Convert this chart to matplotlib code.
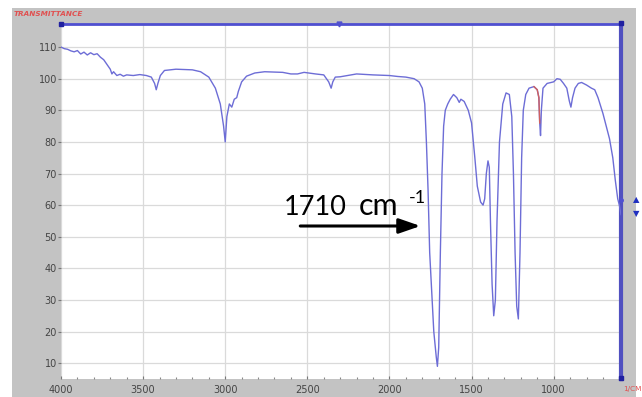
import matplotlib
matplotlib.use("Agg")
import matplotlib.pyplot as plt
from matplotlib.patches import Rectangle

# IR spectrum: wavenumber (1/cm) vs transmittance (%)
wavenumber = [
    4000, 3980, 3960, 3940, 3920, 3900, 3880, 3860, 3840, 3820, 3800, 3780,
    3760, 3740, 3720, 3700, 3690, 3680, 3660, 3640, 3620, 3600, 3560, 3520,
    3480, 3450, 3430, 3420, 3410, 3395, 3370, 3300, 3200, 3150, 3100, 3060,
    3030, 3010, 3000, 2990, 2975, 2960, 2945, 2930, 2920, 2900, 2870, 2820,
    2760, 2650, 2600, 2560, 2520, 2450, 2400, 2370, 2355, 2345, 2330, 2300,
    2200, 2100, 2000, 1950, 1900, 1850, 1820, 1800, 1785, 1775, 1765, 1755,
    1745, 1730, 1715, 1708, 1700, 1690, 1680, 1670, 1660, 1645, 1630, 1610,
    1590, 1575, 1565, 1545, 1520, 1500, 1480, 1465, 1445, 1430, 1420, 1410,
    1400, 1392, 1385, 1375, 1365, 1355, 1345, 1330, 1310, 1290, 1270, 1255,
    1245, 1235, 1225, 1215, 1205, 1195, 1185, 1170, 1150, 1120, 1100, 1090,
    1085, 1080, 1075, 1065, 1040, 1000, 980, 960, 940, 920, 905, 895,
    885, 870, 850, 830, 800, 770, 750, 730, 700, 680, 660, 640,
    625, 610, 600, 590,
]
transmittance = [
    110.0, 109.5, 109.3, 108.8, 108.5, 108.9, 107.8, 108.4, 107.5, 108.2, 107.6, 107.9,
    106.8, 106.0, 104.5, 103.0, 101.5, 102.2, 101.0, 101.4, 100.8, 101.2, 101.0, 101.3,
    101.0, 100.5, 98.5, 96.5, 98.5, 101.0, 102.6, 103.0, 102.8, 102.2, 100.5, 97.0,
    92.0, 85.0, 80.0, 88.0, 92.0, 91.0, 93.5, 94.0, 96.0, 99.0, 100.8, 101.8,
    102.2, 102.0, 101.5, 101.5, 102.0, 101.5, 101.2, 99.0, 97.0, 99.0, 100.5, 100.6,
    101.5, 101.2, 101.0, 100.7, 100.5, 100.0, 99.0, 97.0, 92.0, 80.0, 65.0, 45.0,
    35.0, 20.0, 12.0, 9.0, 15.0, 45.0, 70.0, 85.0, 90.0, 92.0, 93.5, 95.0,
    94.0, 92.5, 93.5, 92.8, 90.0, 86.0, 75.0, 66.0, 61.0, 60.0, 62.0, 70.0,
    74.0, 72.0, 55.0, 35.0, 25.0, 30.0, 55.0, 80.0, 92.0, 95.5, 95.0, 88.0,
    70.0, 45.0, 28.0, 24.0, 45.0, 75.0, 90.0, 95.0, 97.0, 97.5, 96.5, 94.0,
    86.0, 82.0, 90.0, 97.0, 98.5, 99.0, 100.0, 99.8, 98.5, 97.0, 93.0, 91.0,
    94.0, 97.0, 98.5, 98.8, 98.0, 97.0, 96.5, 94.0, 89.0, 85.0, 81.0, 75.0,
    68.0, 62.0, 60.0, 57.0,
]

x_ticks = [4000, 3500, 3000, 2500, 2000, 1500, 1000]
y_ticks = [10, 20, 30, 40, 50, 60, 70, 80, 90, 100, 110]

W, H = 642, 397
fig = plt.figure(figsize=(W / 100, H / 100), dpi=100)
fig.patch.set_facecolor("white")

# grey instrument panel behind the plot
fig.add_artist(Rectangle((12 / W, 0), (636 - 12) / W, (H - 8) / H,
                         transform=fig.transFigure, facecolor="#c3c3c3",
                         edgecolor="none", zorder=0))

L, R, T, B = 61, 621, 24, 379
ax = fig.add_axes([L / W, 1 - B / H, (R - L) / W, (B - T) / H])
ax.set_facecolor("white")
ax.set_xlim(4000, 590)
ax.set_ylim(5, 117.3)

ax.set_xticks(x_ticks)
ax.set_yticks(y_ticks)
ax.set_xticks(range(3900, 590, -100), minor=True)
ax.grid(True, which="major", color="#dadada", linewidth=0.9)
ax.tick_params(axis="both", which="major", labelsize=7, labelcolor="#444444",
               color="#777777", length=2, width=0.8)
ax.tick_params(axis="x", which="major", direction="in", pad=4, length=2)
ax.tick_params(axis="x", which="minor", direction="in", length=1.5,
               color="#888888", width=0.8)
ax.tick_params(axis="y", pad=1)

for side in ("left", "bottom"):
    ax.spines[side].set_visible(False)
ax.spines["top"].set_color("#4f4fd0")
ax.spines["top"].set_linewidth(2.0)
ax.spines["right"].set_color("#5050c0")
ax.spines["right"].set_linewidth(3.0)

ax.plot(wavenumber, transmittance, color="#6d6dd6", linewidth=1.0, zorder=3)
# small red segment of the trace near 1100 1/cm
ax.plot(wavenumber[117:121], transmittance[117:121], color="#d06060",
        linewidth=1.0, zorder=4)

# cursor markers on the frame
ax.plot([4000], [117.3], marker="s", markersize=3.5, color="#2020a0",
        clip_on=False, zorder=5)
ax.plot([2305], [117.3], marker="v", markersize=3.5, color="#5050d0",
        clip_on=False, zorder=5)
ax.plot([590], [117.6], marker="s", markersize=3.5, color="#2020a0",
        clip_on=False, zorder=5)
ax.plot([590], [5.3], marker="s", markersize=3.5, color="#2020a0",
        clip_on=False, zorder=5)
ax.plot([590], [61.5], marker="o", markersize=2.5, color="#5050d0",
        clip_on=False, zorder=5)

fig.text(14 / W, 1 - 14 / H, "TRANSMITTANCE", color="#e05050", fontsize=5.2,
         style="italic", fontweight="bold", va="center", ha="left")
fig.text(623 / W, 1 - 389 / H, "1/CM", color="#e05050", fontsize=5.2,
         va="center", ha="left")
fig.text(636 / W, 1 - 200 / H, "\u25B2", color="#2030c0", fontsize=6,
         ha="center", va="center")
fig.text(636 / W, 1 - 214 / H, "\u25BC", color="#2030c0", fontsize=6,
         ha="center", va="center")

# carbonyl band label with arrow
ax.text(2646, 56.8, "1710", fontsize=19.5, family="Lato", color="black",
        ha="left", va="baseline", zorder=6)
ax.text(2189, 56.8, "cm", fontsize=22, family="Lato", color="black",
        ha="left", va="baseline", zorder=6)
ax.text(1884, 60.6, "-1", fontsize=13, family="Lato", color="black",
        ha="left", va="baseline", zorder=6)
ax.annotate("", xy=(1811, 53.4), xytext=(2543, 53.4),
            arrowprops=dict(arrowstyle="-|>,head_length=1.3,head_width=0.45",
                            color="black", lw=2.2, shrinkA=0, shrinkB=0),
            zorder=6)

fig.savefig("out.png", dpi=100)
